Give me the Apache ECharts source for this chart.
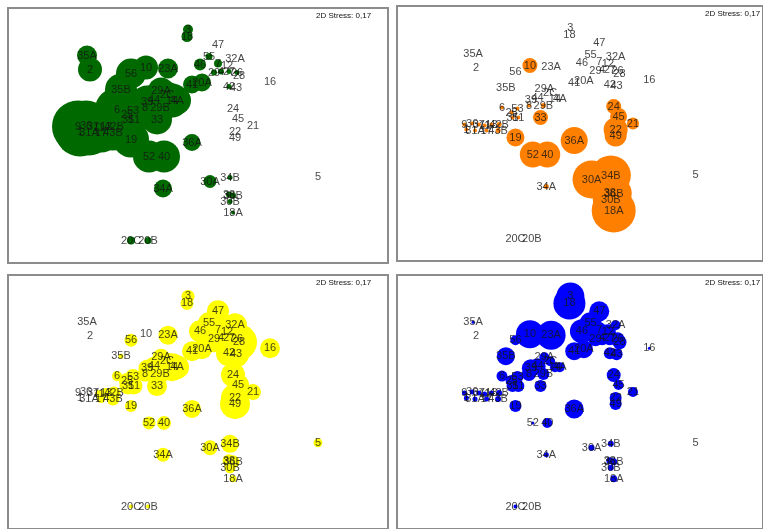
<!DOCTYPE html>
<html><head><meta charset="utf-8">
<script src="https://cdn.jsdelivr.net/npm/echarts@6/dist/echarts.min.js"></script>
<style>html,body{margin:0;padding:0;background:#fff}#c{width:763px;height:529px}</style>
</head><body><div id="c"></div>
<script>
// Sample labels (MDS ordination, shared by all four panels)
const labels = ["3","18","47","55","32A","46","7","12","35A","2","56","10","23A","29","4","27","26","28","41","20A","42","43","16","35B","29A","2C","39","44","8","29B","14","4A","6","25","53","31","51","24","45","21","33","9","36","37","1","31A","11","13","42B","17","43B","19","36A","52","40","22","49","34B","30A","5","34A","38","36B","30B","18A","20C","20B"];
// MDS axis 1
const mds1 = [-0.10,-0.11,0.20,0.11,0.37,0.02,0.20,0.29,-1.11,-1.08,-0.67,-0.52,-0.30,0.16,0.23,0.31,0.39,0.41,-0.06,0.04,0.31,0.38,0.72,-0.77,-0.37,-0.31,-0.51,-0.44,-0.53,-0.38,-0.26,-0.21,-0.81,-0.71,-0.65,-0.70,-0.64,0.35,0.40,0.55,-0.41,-1.20,-1.12,-1.05,-1.18,-1.09,-0.99,-0.92,-0.84,-0.97,-0.85,-0.67,-0.06,-0.49,-0.34,0.37,0.37,0.32,0.12,1.20,-0.35,0.31,0.35,0.32,0.35,-0.67,-0.50];
// MDS axis 2
const mds2 = [1.06,0.99,0.91,0.79,0.77,0.71,0.72,0.70,0.80,0.66,0.62,0.68,0.67,0.63,0.64,0.64,0.63,0.60,0.51,0.53,0.49,0.48,0.54,0.46,0.45,0.41,0.34,0.36,0.28,0.28,0.35,0.35,0.26,0.21,0.25,0.16,0.16,0.27,0.17,0.10,0.16,0.09,0.10,0.09,0.04,0.03,0.08,0.09,0.09,0.03,0.03,-0.04,-0.07,-0.21,-0.21,0.04,-0.02,-0.42,-0.46,-0.41,-0.53,-0.59,-0.60,-0.66,-0.77,-1.05,-1.05];
// Bubble sizes per panel
const sizeGreen  = [10,11,0,7,0,12,8,0,20,24,30,24,20,6,6,5,5,0,18,18,5,0,0,32,26,26,32,30,32,32,34,28,44,34,30,34,30,0,0,0,30,52,50,46,50,46,42,40,38,40,36,36,17,32,32,0,0,5,13,0,18,6,6,5,4,8,7];
const sizeOrange = [0,0,0,0,0,0,0,0,0,0,0,15,0,0,0,0,0,0,0,0,0,0,0,0,0,0,0,0,4,5,0,0,4,4,4,4,4,15,17,12,15,4,4,4,4,4,4,4,5,4,5,18,27,26,26,24,22,40,38,0,5,36,36,36,44,0,0];
const sizeYellow = [13,13,22,22,24,22,24,24,0,0,13,0,19,26,26,28,30,36,20,20,26,26,20,5,17,17,17,19,15,19,28,24,10,16,16,17,17,24,22,16,20,0,0,0,0,0,8,10,13,8,13,12,18,13,14,28,30,18,15,9,14,13,13,11,7,4,4];
const sizeBlue   = [28,32,20,22,10,24,16,16,3,0,10,28,29,14,14,14,14,14,18,18,12,12,3,18,10,10,18,16,14,12,10,10,11,12,12,12,12,14,10,10,12,5,5,5,5,5,5,5,6,5,6,12,19,3,10,12,12,6,6,0,5,7,7,6,7,4,0];

const panels = [
  {left: 8,   top: 8,   color: '#006a00', sizes: sizeGreen},
  {left: 397, top: 6,   color: '#ff8000', sizes: sizeOrange},
  {left: 8,   top: 275, color: '#ffff00', sizes: sizeYellow},
  {left: 397, top: 275, color: '#0000ff', sizes: sizeBlue}
];
const W = 380, H = 255;

const grid = [], xAxis = [], yAxis = [], series = [], graphic = [];
panels.forEach((p, k) => {
  grid.push({left: p.left, top: p.top, width: W, height: H, show: true,
    borderColor: '#8c8c8c', borderWidth: 2, backgroundColor: '#fff'});
  xAxis.push({gridIndex: k, type: 'value', min: -1.9, max: 1.9, show: false});
  yAxis.push({gridIndex: k, type: 'value', min: -1.275, max: 1.275, show: false});
  const bub = [];
  labels.forEach((l, i) => { if (p.sizes[i] > 0) bub.push([mds1[i], mds2[i], p.sizes[i]]); });
  bub.sort((a, b) => b[2] - a[2]);
  series.push({type: 'scatter', xAxisIndex: k, yAxisIndex: k, data: bub,
    symbolSize: d => d[2], itemStyle: {color: p.color, opacity: 1},
    silent: true, z: 2});
  series.push({type: 'scatter', xAxisIndex: k, yAxisIndex: k,
    data: labels.map((l, i) => [mds1[i], mds2[i], l]),
    symbolSize: 1, itemStyle: {color: 'rgba(0,0,0,0)'}, silent: true, z: 3,
    label: {show: true, position: 'inside', formatter: q => q.data[2],
      color: '#141414', fontSize: 11, fontFamily: 'Liberation Sans'}});
  graphic.push({type: 'text', left: p.left + W - 72, top: p.top + 4,
    style: {text: '2D Stress: 0,17', fill: '#111', font: '8px "Liberation Sans"'}, z: 10});
});

const chart = echarts.init(document.getElementById('c'), null, {renderer: 'canvas'});
chart.setOption({animation: false, backgroundColor: '#fff', grid, xAxis, yAxis, series, graphic});
</script></body></html>
